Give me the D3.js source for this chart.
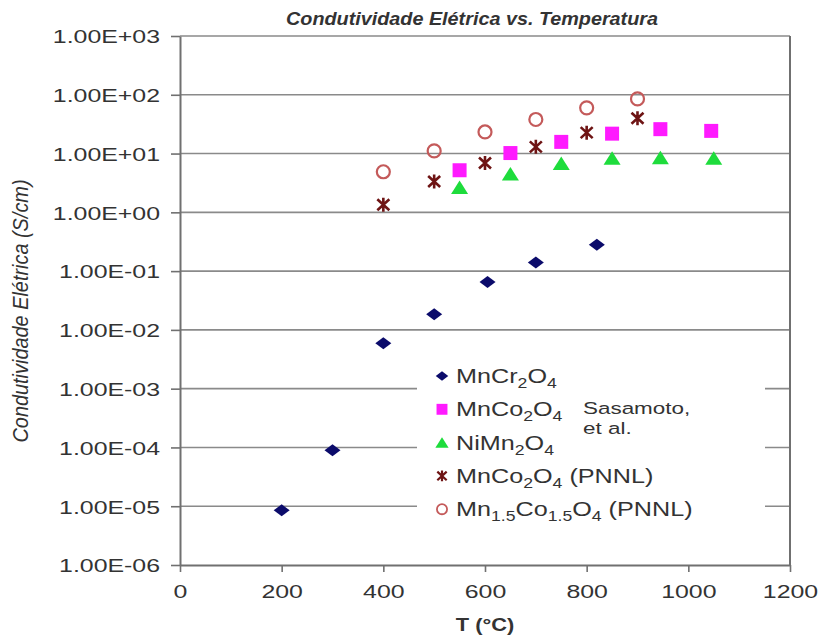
<!DOCTYPE html>
<html>
<head>
<meta charset="utf-8">
<script src="https://cdn.jsdelivr.net/npm/d3@7"></script>
<style>
  body { margin: 0; background: #fff; }
  text { font-family: "Liberation Sans", Arial, sans-serif; fill: #333; }
</style>
</head>
<body>
<div id="chart"></div>
<script>
// data
const xTicks = [0, 200, 400, 600, 800, 1000, 1200];
const yTicks = [1e-6, 1e-5, 1e-4, 1e-3, 1e-2, 1e-1, 1e0, 1e1, 1e2, 1e3];
const yTickLabels = ["1.00E-06", "1.00E-05", "1.00E-04", "1.00E-03", "1.00E-02",
                     "1.00E-01", "1.00E+00", "1.00E+01", "1.00E+02", "1.00E+03"];

const mnCr2O4_T = [200, 300, 400, 500, 605, 700, 820];
const mnCr2O4_S = [8.5e-6, 9.0e-5, 5.9e-3, 1.85e-2, 6.5e-2, 0.14, 0.28];

const mnCo2O4_T = [550, 650, 750, 850, 945, 1045];
const mnCo2O4_S = [5.2, 10.2, 15.8, 21.8, 26, 24.3];

const niMn2O4_T = [550, 650, 750, 850, 945, 1050];
const niMn2O4_S = [2.65, 4.5, 6.8, 8.3, 8.5, 8.3];

const mnCo2O4pnnl_T = [400, 500, 600, 700, 800, 900];
const mnCo2O4pnnl_S = [1.35, 3.35, 6.9, 13, 22.7, 40];

const mn15Co15O4_T = [400, 500, 600, 700, 800, 900];
const mn15Co15O4_S = [4.9, 11.1, 23.3, 38, 60, 85];

const seriesNames = ["MnCr_{2}O_{4}", "MnCo_{2}O_{4}", "NiMn_{2}O_{4}",
                     "MnCo_{2}O_{4} (PNNL)", "Mn_{1.5}Co_{1.5}O_{4} (PNNL)"];

const width = 824, height = 638;
const margin = {top: 36, right: 34, bottom: 73, left: 180};
const w = width - margin.left - margin.right;
const h = height - margin.top - margin.bottom;

const svg = d3.select("#chart").append("svg")
    .attr("width", width)
    .attr("height", height);

const g = svg.append("g")
    .attr("transform", "translate(" + margin.left + "," + margin.top + ")");

let x = d3.scaleLinear().domain([0, 1200]).range([0, w]);
let y = d3.scaleLog().domain([1e-6, 1e3]).range([h, 0]);

// markers
function markerPath(type, k) {
    if (type == "diamond") return `M0,${-6*k}L${8*k},0L0,${6*k}L${-8*k},0Z`;
    if (type == "square") return `M${-7*k},${-7*k}h${14*k}v${14*k}h${-14*k}Z`;
    if (type == "triangle") return `M0,${-7*k}L${8.5*k},${6.5*k}L${-8.5*k},${6.5*k}Z`;
    if (type == "star") return `M${-6*k},${-5.5*k}L${6*k},${5.5*k}M${6*k},${-5.5*k}L${-6*k},${5.5*k}M0,${-7*k}L0,${7*k}`;
    return d3.arc()({innerRadius: 0, outerRadius: 6.5*k, startAngle: 0, endAngle: 2*Math.PI});
}
const series = [
    {T: mnCr2O4_T, S: mnCr2O4_S, type: "diamond", fill: "#0b0b6b", stroke: "none"},
    {T: mnCo2O4_T, S: mnCo2O4_S, type: "square", fill: "#ff1aff", stroke: "none"},
    {T: niMn2O4_T, S: niMn2O4_S, type: "triangle", fill: "#1edc3c", stroke: "none"},
    {T: mnCo2O4pnnl_T, S: mnCo2O4pnnl_S, type: "star", fill: "none", stroke: "#6e1414"},
    {T: mn15Co15O4_T, S: mn15Co15O4_S, type: "circle", fill: "none", stroke: "#c45a5a"}
];

// stretched text helper (the original lettering is wide)
function wideText(parent, tx, ty, sx, str) {
    return parent.append("g")
        .attr("transform", `translate(${tx},${ty}) scale(${sx},1)`)
        .append("text")
        .text(str);
}

// gridlines
g.selectAll(".grid")
    .data(yTicks.slice(1))
    .enter()
    .append("line")
    .attr("x1", 0).attr("x2", w)
    .attr("y1", d => y(d)).attr("y2", d => y(d))
    .attr("stroke", "#8a8a8a")
    .attr("stroke-width", 1.6);

// right border
g.append("line")
    .attr("x1", w).attr("x2", w).attr("y1", 0).attr("y2", h)
    .attr("stroke", "#707070").attr("stroke-width", 2);

// axes
let yAxis = g.append("g")
    .call(d3.axisLeft(y).tickValues(yTicks).tickSize(9).tickSizeOuter(0)
        .tickFormat((d, i) => yTickLabels[i]));
yAxis.select(".domain").attr("stroke", "#707070").attr("stroke-width", 2);
yAxis.selectAll(".tick line").attr("stroke", "#707070").attr("stroke-width", 1.6);
yAxis.selectAll("text")
    .attr("x", -20 / 1.31)
    .attr("dy", "0.36em")
    .attr("transform", "scale(1.31,1)")
    .style("font-size", "19px")
    .style("font-family", '"Liberation Sans", Arial, sans-serif')
    .attr("fill", "#333");

let xAxis = g.append("g")
    .attr("transform", "translate(0," + h + ")")
    .call(d3.axisBottom(x).tickValues(xTicks).tickSize(7).tickSizeOuter(0)
        .tickFormat(d3.format("d")));
xAxis.select(".domain").attr("stroke", "#707070").attr("stroke-width", 2);
xAxis.selectAll(".tick line").attr("stroke", "#707070").attr("stroke-width", 1.6);
xAxis.selectAll("text")
    .attr("y", 20)
    .attr("dy", "0.71em")
    .attr("transform", "scale(1.31,1)")
    .style("font-size", "19px")
    .style("font-family", '"Liberation Sans", Arial, sans-serif')
    .attr("fill", "#333");

// points
series.forEach(function(s) {
    g.selectAll(null)
        .data(s.T.map((t, i) => [t, s.S[i]]))
        .enter()
        .append("path")
        .attr("transform", d => "translate(" + x(d[0]) + "," + y(d[1]) + ")")
        .attr("d", markerPath(s.type, 1))
        .attr("fill", s.fill)
        .attr("stroke", s.stroke)
        .attr("stroke-width", s.type == "star" ? 2.6 : 2.2);
});

// legend
let legend = svg.append("g");
legend.append("rect")
    .attr("x", 417).attr("y", 354)
    .attr("width", 348).attr("height", 176)
    .attr("fill", "#fff");

series.forEach(function(s, i) {
    let cy = 376 + i * 33.3;
    legend.append("path")
        .attr("transform", "translate(442," + cy + ")")
        .attr("d", markerPath(s.type, 0.78))
        .attr("fill", s.fill)
        .attr("stroke", s.stroke)
        .attr("stroke-width", s.type == "star" ? 2.2 : 1.8);
    let t = wideText(legend, 456, cy + 7, 1.26, null)
        .style("font-size", "20px");
    // split name into normal and subscript pieces
    let parts = seriesNames[i].split(/_\{([^}]*)\}/);
    parts.forEach(function(p, j) {
        if (p === "") return;
        if (j % 2 == 1) {
            t.append("tspan").attr("dy", 5).style("font-size", "14px").text(p);
        } else {
            t.append("tspan").attr("dy", j > 0 ? -5 : 0).text(p);
        }
    });
});
wideText(legend, 583, 414, 1.32, "Sasamoto,").style("font-size", "17px");
wideText(legend, 583, 434, 1.32, "et al.").style("font-size", "17px");

// titles
wideText(svg, 472, 25, 1.1, "Condutividade Elétrica vs. Temperatura")
    .style("font-size", "18px")
    .style("font-weight", "bold")
    .style("font-style", "italic")
    .style("text-anchor", "middle");

wideText(svg, 485, 631, 1.15, "T (°C)")
    .style("font-size", "19px")
    .style("font-weight", "bold")
    .style("text-anchor", "middle");

svg.append("g")
    .attr("transform", "translate(28,311) scale(1.3,1) rotate(-90)")
    .append("text")
    .text("Condutividade Elétrica (S/cm)")
    .attr("textLength", 263)
    .attr("lengthAdjust", "spacingAndGlyphs")
    .style("font-size", "17px")
    .style("font-style", "italic")
    .style("text-anchor", "middle");
</script>
</body>
</html>
